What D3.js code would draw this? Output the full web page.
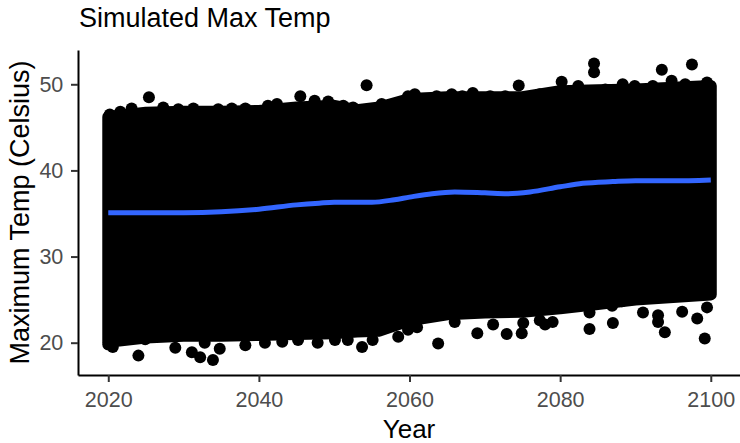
<!DOCTYPE html>
<html>
<head>
<meta charset="utf-8">
<script src="https://cdn.jsdelivr.net/npm/d3@7/dist/d3.min.js"></script>
<style>
  body { margin: 0; background: #fff; }
  text { font-family: "Liberation Sans", Arial, sans-serif; }
</style>
</head>
<body>
<svg id="chart" width="740" height="443"></svg>
<script>
// dense core of the simulated cloud (upper / lower point centres)
const coreYears = [2020, 2025, 2030, 2035, 2040, 2045, 2050, 2053, 2056, 2060, 2065, 2070, 2075, 2080, 2085, 2090, 2095, 2100];
const coreUpper = [46.2, 46.7, 46.8, 46.8, 46.9, 47.3, 47.5, 47.0, 47.3, 48.3, 48.5, 48.5, 48.5, 49.2, 49.3, 49.4, 49.6, 49.8];
const coreLower = [20.1, 20.6, 20.8, 20.8, 20.9, 21.0, 21.1, 21.3, 21.4, 22.6, 23.3, 23.5, 23.6, 24.0, 24.5, 25.0, 25.3, 25.6];

// points along the top edge of the cloud
const topYears = [
  2020.2, 2021.6, 2023.1, 2025.4, 2027.3, 2029.3, 2031.3, 2034.6, 2036.4, 2038.2,
  2041.2, 2042.4, 2045.5, 2047.4, 2049.2, 2051.2, 2052.5, 2054.3, 2056.3, 2058.3,
  2059.8, 2060.7, 2063.6, 2065.6, 2067.0, 2068.4, 2070.7, 2072.7, 2074.5, 2076.3,
  2077.3, 2080.2, 2082.4, 2084.5, 2084.5, 2086.0, 2088.3, 2089.9, 2092.3, 2093.5,
  2094.8, 2096.6, 2097.5, 2099.5
];
const topTemps = [
  46.5, 46.8, 47.2, 48.5, 47.3, 47.1, 47.2, 47.1, 47.2, 47.2,
  47.5, 47.7, 48.6, 48.1, 48.0, 47.5, 47.3, 49.9, 47.7, 47.5,
  48.6, 48.85, 48.6, 48.85, 48.6, 49.0, 48.6, 48.6, 49.85, 48.6,
  48.85, 50.3, 49.8, 52.4, 51.4, 49.4, 50.0, 49.8, 49.8, 51.7,
  50.4, 50.0, 52.3, 50.2
];

// points along the bottom edge of the cloud
const lowYears = [
  2020.0, 2020.6, 2024.0, 2024.9, 2028.9, 2031.1, 2032.2, 2032.8, 2033.9, 2034.8,
  2038.2, 2040.8, 2043.1, 2045.2, 2047.8, 2050.1, 2051.8, 2053.7, 2055.1, 2058.5,
  2059.8, 2061.0, 2063.8, 2066.0, 2069.0, 2071.1, 2072.9, 2074.9, 2075.1, 2077.3,
  2078.0, 2079.0, 2083.9, 2083.9, 2086.9, 2087.0, 2088.2, 2091.0, 2093.0, 2093.0,
  2093.9, 2096.2, 2098.2, 2099.2, 2099.5
];
const lowTemps = [
  19.8, 19.5, 18.5, 20.4, 19.4, 18.9, 18.3, 20.0, 18.0, 19.3,
  19.7, 20.0, 20.1, 20.3, 20.0, 20.3, 20.3, 19.5, 20.3, 20.7,
  21.5, 21.8, 19.9, 22.4, 21.1, 22.1, 21.0, 21.1, 22.3, 22.6,
  22.1, 22.4, 21.6, 23.5, 24.3, 22.3, 24.8, 23.5, 23.2, 22.4,
  21.2, 23.6, 22.8, 20.5, 24.1
];

// loess smoother
const smoothYears = [2020, 2025, 2030, 2035, 2040, 2045, 2048, 2050, 2053, 2055, 2058, 2060, 2063, 2066, 2070, 2073, 2076, 2080, 2083, 2087, 2090, 2095, 2100];
const smoothTemps = [35.1, 35.1, 35.1, 35.2, 35.5, 36.0, 36.2, 36.3, 36.3, 36.3, 36.6, 36.9, 37.3, 37.5, 37.4, 37.3, 37.5, 38.1, 38.5, 38.7, 38.8, 38.8, 38.9];

const xTicks = [2020, 2040, 2060, 2080, 2100];
const yTicks = [20, 30, 40, 50];

const panel = { left: 78, right: 740, top: 50, bottom: 375 };
const pointR = 6;

const svg = d3.select('#chart');

const x = d3.scaleLinear()
  .domain([2015.98, 2103.88])
  .range([panel.left, panel.right]);

const y = d3.scaleLinear()
  .domain([16.25, 53.98])
  .range([panel.bottom, panel.top]);

// the cloud: filled core, stroked with the point diameter so its edge sits like the dots
const core = coreYears.map((yr, i) => ({ yr, hi: coreUpper[i], lo: coreLower[i] }));

svg.append('path')
  .datum(core)
  .attr('d', d3.area()
    .x(d => x(d.yr))
    .y0(d => y(d.lo))
    .y1(d => y(d.hi)))
  .attr('fill', '#000')
  .attr('stroke', '#000')
  .attr('stroke-width', pointR * 2)
  .attr('stroke-linejoin', 'round');

const edges = topYears.map((yr, i) => ({ yr, t: topTemps[i] }))
  .concat(lowYears.map((yr, i) => ({ yr, t: lowTemps[i] })));

svg.selectAll('.pt')
  .data(edges)
  .enter().append('circle')
    .attr('class', 'pt')
    .attr('cx', d => x(d.yr))
    .attr('cy', d => y(d.t))
    .attr('r', pointR)
    .attr('fill', '#000');

// smoother
const smooth = smoothYears.map((yr, i) => ({ yr, t: smoothTemps[i] }));

svg.append('path')
  .datum(smooth)
  .attr('d', d3.line()
    .x(d => x(d.yr))
    .y(d => y(d.t))
    .curve(d3.curveMonotoneX))
  .attr('fill', 'none')
  .attr('stroke', '#3366FF')
  .attr('stroke-width', 5);

// axes
const xAxis = d3.axisBottom(x)
  .tickValues(xTicks)
  .tickFormat(d3.format('d'))
  .tickSize(7)
  .tickSizeOuter(0)
  .tickPadding(9.5);

const yAxis = d3.axisLeft(y)
  .tickValues(yTicks)
  .tickSize(7)
  .tickSizeOuter(0)
  .tickPadding(7.7);

const gx = svg.append('g')
  .attr('transform', 'translate(0,' + panel.bottom + ')')
  .call(xAxis);

const gy = svg.append('g')
  .attr('transform', 'translate(' + panel.left + ',0)')
  .call(yAxis);

[gx, gy].forEach(g => {
  g.select('.domain').attr('stroke', '#000').attr('stroke-width', 2);
  g.selectAll('.tick line').attr('stroke', '#333').attr('stroke-width', 2);
  g.selectAll('.tick text')
    .attr('fill', '#4D4D4D')
    .style('font-size', '21.5px')
    .style('font-family', '"Liberation Sans", Arial, sans-serif');
});

// titles
svg.append('text')
  .attr('x', 79)
  .attr('y', 27)
  .style('font-size', '27px')
  .attr('fill', '#000')
  .text('Simulated Max Temp');

svg.append('text')
  .attr('x', (panel.left + panel.right) / 2)
  .attr('y', 438)
  .attr('text-anchor', 'middle')
  .style('font-size', '26px')
  .attr('fill', '#000')
  .text('Year');

svg.append('text')
  .attr('transform', 'translate(29,' + (panel.top + panel.bottom) / 2 + ') rotate(-90)')
  .attr('text-anchor', 'middle')
  .style('font-size', '27px')
  .attr('fill', '#000')
  .text('Maximum Temp (Celsius)');
</script>
</body>
</html>
